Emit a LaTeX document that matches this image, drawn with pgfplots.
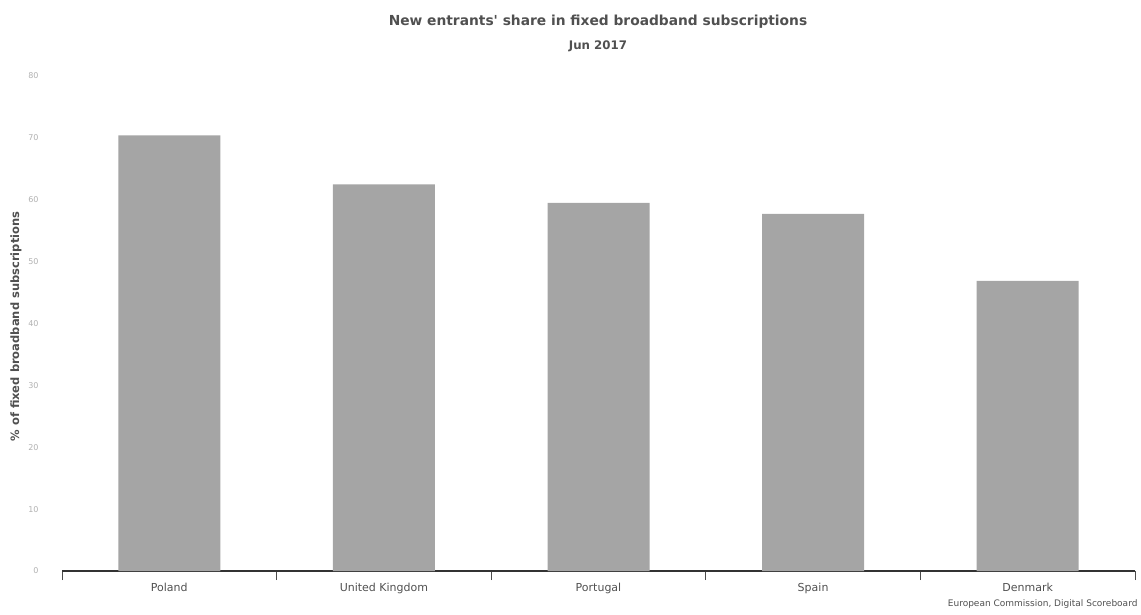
\documentclass[border=0pt]{standalone}
\usepackage{pgfplots}
\pgfplotsset{compat=1.18}
\usepackage{fontspec}
\setmainfont{DejaVu Sans}
\definecolor{barc}{HTML}{A5A5A5}
\definecolor{tickc}{HTML}{B0B0B0}
\definecolor{txtc}{HTML}{505050}
\begin{document}
\begin{tikzpicture}
\path[use as bounding box] (-62pt,-43pt) rectangle (1079pt,571pt);
\begin{axis}[
  anchor=south west, at={(0pt,0pt)},
  scale only axis, width=1073pt, height=495pt,
  ymin=0, ymax=80, xmin=-0.5, xmax=4.5,
  ybar, bar width=102pt, bar shift=0pt,
  axis y line=none,
  axis x line*=bottom,
  x axis line style={draw=black!80, line width=1.5pt, -},
  xtick={0,1,2,3,4},
  xticklabels={Poland,United Kingdom,Portugal,Spain,Denmark},
  major x tick style={draw=none},
  minor xtick={-0.5,0.5,1.5,2.5,3.5,4.5},
  minor x tick style={draw=black!70, line width=0.8pt},
  minor tick length=9pt,
  tick align=outside,
  xticklabel style={font=\fontsize{11}{12}\selectfont, text=txtc, yshift=-4pt},
  clip=false,
]
\addplot[fill=barc, draw=none] coordinates {(0,70.4) (1,62.5) (2,59.5) (3,57.7) (4,46.9)};
\end{axis}
\begin{axis}[
  anchor=south west, at={(0pt,0pt)},
  scale only axis, width=1073pt, height=495pt,
  ymin=0, ymax=80, xmin=-0.5, xmax=4.5,
  axis x line=none,
  axis y line*=left,
  y axis line style={draw=none},
  ytick={0,10,...,80},
  major tick length=0pt,
  yticklabel style={font=\fontsize{8}{9}\selectfont, text=tickc, xshift=-20pt},
  /pgf/number format/assume math mode=true,
  ylabel={\% of fixed broadband subscriptions},
  ylabel style={font=\fontsize{11.5}{13}\selectfont\bfseries, text=txtc, at={(ticklabel cs:0.5)}, xshift=-3pt},
  clip=false,
]
\end{axis}
\node[font=\fontsize{13.8}{15}\selectfont\bfseries, text=txtc] at (536pt,549pt) {New entrants\textquotesingle\ share in fixed broadband subscriptions};
\node[font=\fontsize{11.8}{13}\selectfont\bfseries, text=txtc] at (536pt,525pt) {Jun 2017};
\node[font=\fontsize{9}{10}\selectfont, text=txtc, anchor=east] at (1079pt,-33pt) {European Commission, Digital Scoreboard};
\end{tikzpicture}
\end{document}
